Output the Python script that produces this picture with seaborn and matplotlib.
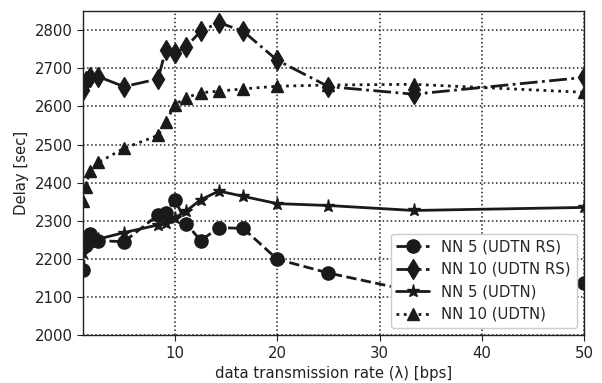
import matplotlib
matplotlib.use("Agg")
import matplotlib.pyplot as plt
import seaborn as sns
import pandas as pd

rate = [1.0, 1.25, 1.67, 2.5, 5.0, 8.33, 9.09, 10.0, 11.11, 12.5, 14.29, 16.67, 20.0, 25.0, 33.33, 50.0]

nn5_rs = [2170, 2237, 2265, 2248, 2245, 2315, 2321, 2355, 2292, 2248, 2282, 2280, 2199, 2163, 2115, 2137]
nn10_rs = [2642, 2667, 2676, 2678, 2652, 2672, 2748, 2740, 2757, 2797, 2820, 2797, 2721, 2652, 2632, 2676]
nn5 = [2215, 2235, 2245, 2252, 2269, 2289, 2295, 2308, 2326, 2355, 2378, 2364, 2345, 2340, 2327, 2335]
nn10 = [2352, 2388, 2430, 2453, 2490, 2524, 2559, 2605, 2623, 2636, 2640, 2646, 2653, 2656, 2658, 2637]

labels = ["NN 5 (UDTN RS)", "NN 10 (UDTN RS)", "NN 5 (UDTN)", "NN 10 (UDTN)"]
series = [nn5_rs, nn10_rs, nn5, nn10]
markers = ["o", "d", "*", "^"]
styles = ["--", "-.", "-", ":"]
msizes = [9.5, 10, 9.5, 9]

sns.set_style("ticks", {"axes.grid": True, "grid.linestyle": ":", "grid.color": "#222222",
                        "axes.edgecolor": "#222222", "xtick.direction": "out", "ytick.direction": "out"})
plt.rcParams["font.family"] = ["DejaVu Sans"]

FS = 10.7

fig = plt.figure(figsize=(6.02, 3.83), dpi=100)
ax = fig.add_axes([0.138, 0.125, 0.832, 0.846])

for lab, vals, m, ls, ms in zip(labels, series, markers, styles, msizes):
    df = pd.DataFrame({"rate": rate, "delay": vals})
    sns.lineplot(data=df, x="rate", y="delay", ax=ax, marker=m, linestyle=ls, color="#1a1a1a",
                 markersize=ms, linewidth=2, markeredgecolor="#1a1a1a", markeredgewidth=1,
                 label=lab)

ax.set_xlim(1, 50)
ax.set_ylim(2000, 2850)
ax.set_yticks(range(2000, 2801, 100))
ax.set_xticks([10, 20, 30, 40, 50])
ax.grid(True, linestyle=":", color="#222222", linewidth=1.1)
ax.tick_params(labelsize=FS, length=4, color="#222222", labelcolor="#222222")
ax.set_xlabel("data transmission rate (λ) [bps]", fontsize=FS, color="#222222")
ax.set_ylabel("Delay [sec]", fontsize=FS, color="#222222")
for s in ax.spines.values():
    s.set_visible(True)
    s.set_linewidth(1.0)

leg = ax.legend(loc="lower right", fontsize=FS, frameon=True, handlelength=2.2,
                framealpha=1.0, labelspacing=0.5)
leg.get_frame().set_edgecolor("#cccccc")

fig.savefig("out.png", dpi=100)
